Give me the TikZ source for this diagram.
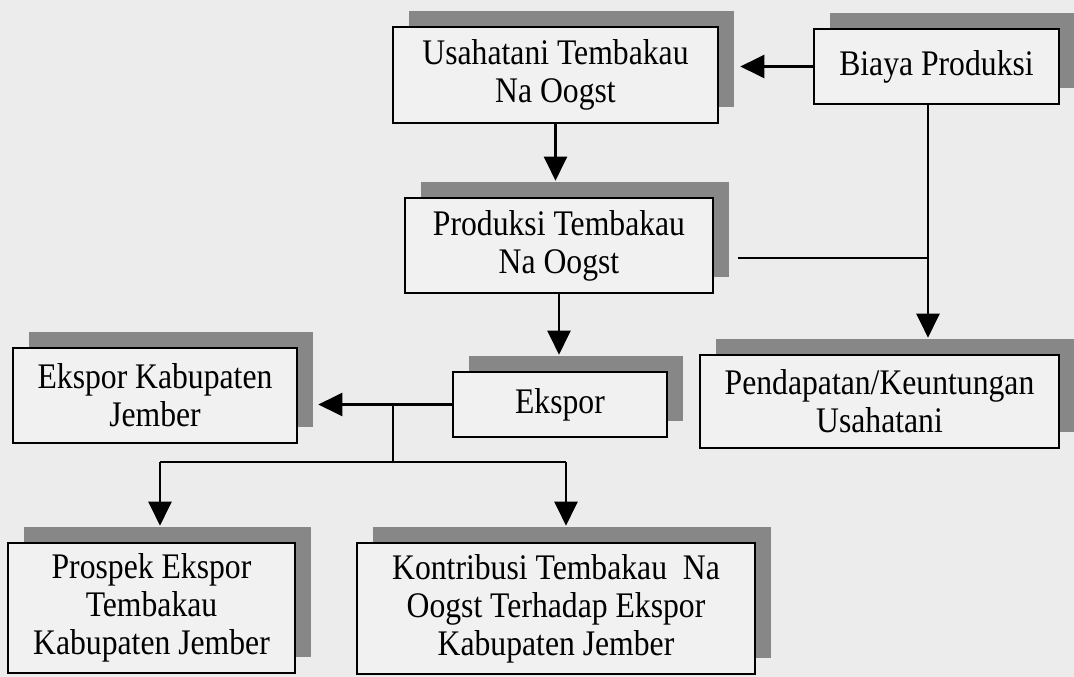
\documentclass[tikz,border=0pt]{standalone}
\usepackage{fontspec}
\setmainfont{Liberation Serif}[FakeStretch=0.88]
\usetikzlibrary{arrows.meta,shadows}
\definecolor{bgc}{HTML}{ECECEC}
\definecolor{boxc}{HTML}{F1F1F1}
\definecolor{shc}{HTML}{878787}
\begin{document}
\begin{tikzpicture}[x=1pt,y=-1pt,
  box/.style={draw=black, line width=2.6pt, fill=boxc, align=center, inner sep=0pt,
    font=\fontsize{36}{38}\selectfont,
    drop shadow={shadow xshift=16pt, shadow yshift=16pt, fill=shc, opacity=1}},
  conn/.style={line width=2.2pt},
  arr/.style={conn, -{Triangle[length=24pt,width=23pt]}}]
\fill[bgc] (0,0) rectangle (1074,677);
\useasboundingbox (0,0) rectangle (1074,677);

\node[box, minimum width=325pt, minimum height=96pt] (U) at (555.5,75) {Usahatani Tembakau\\Na Oogst};
\node[box, minimum width=245pt, minimum height=75pt] (B) at (936.5,66.5) {Biaya Produksi};
\node[box, minimum width=308pt, minimum height=95pt] (P) at (559,245.5) {Produksi Tembakau\\Na Oogst};
\node[box, minimum width=214pt, minimum height=65pt] (E) at (560,404.5) {Ekspor};
\node[box, minimum width=359pt, minimum height=93pt] (PD) at (879.5,401.5) {Pendapatan/Keuntungan\\Usahatani};
\node[box, minimum width=284pt, minimum height=95pt] (EK) at (155,395.5) {Ekspor Kabupaten\\Jember};
\node[box, minimum width=287pt, minimum height=130pt] (PR) at (151.5,608) {Prospek Ekspor\\Tembakau\\Kabupaten Jember};
\node[box, minimum width=398pt, minimum height=131pt] (K) at (556,608.5) {Kontribusi Tembakau\ \ Na\\Oogst Terhadap Ekspor\\Kabupaten Jember};

\coordinate (j1) at (928,258);
\coordinate (j2) at (393,404.5);
\coordinate (j3) at (393,462);
\coordinate (a1) at (160,462);
\coordinate (a2) at (566,462);

\draw[arr, shorten >=21pt] (B.west) -- (B.west -| U.east);
\draw[arr, shorten >=16pt] (U.south) -- (U.south |- P.north);
\draw[arr, shorten >=16pt] (P.south) -- (P.south |- E.north);
\draw[arr, shorten >=16pt] (B.south -| j1) -- (j1 |- PD.north);
\draw[conn] (P.east |- j1) ++(24,0) -- (j1);
\draw[arr, shorten >=20pt] (E.west) -- (E.west -| EK.east);
\draw[conn] (j2) -- (j3);
\draw[conn] (a1) -- (a2);
\draw[arr, shorten >=16pt] (a1) -- (a1 |- PR.north);
\draw[arr, shorten >=16pt] (a2) -- (a2 |- K.north);
\end{tikzpicture}
\end{document}
